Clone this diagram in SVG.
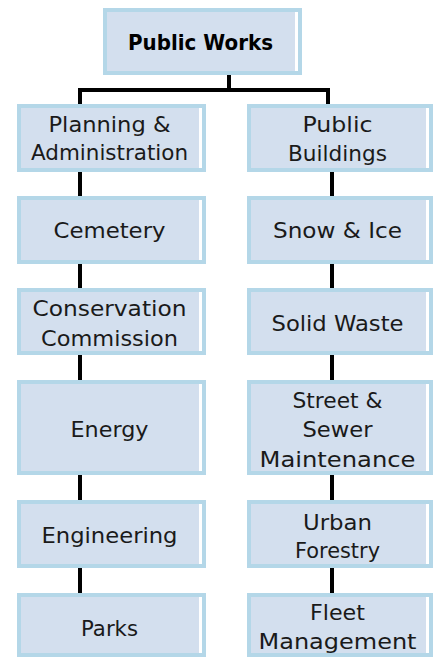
<svg xmlns="http://www.w3.org/2000/svg" width="433" height="658" viewBox="0 0 433 658">
  <style>
    .box { fill: #D3DFEE; stroke: #B4D7E8; stroke-width: 4; }
    .strip { fill: #FFFFFF; }
    .conn { fill: none; stroke: #000000; stroke-width: 4; stroke-linejoin: miter; stroke-linecap: butt; }
    .t { font-family: "DejaVu Sans", "Liberation Sans", sans-serif; font-size: 21px; fill: #1A1A1A; text-anchor: middle; }
    .tb { font-weight: bold; fill: #000000; font-size: 22px; }
  </style>
  <rect x="0" y="0" width="433" height="658" fill="#FFFFFF"/>
  <g id="connectors">
    <path class="conn" d="M229,75 V90"/>
    <path class="conn" d="M80,104 V90 H328 V104"/>
    <path class="conn" d="M80,172 V196 M80,264 V288 M80,355 V380 M80,475 V500 M80,568 V593"/>
    <path class="conn" d="M332,172 V196 M332,264 V288 M332,355 V380 M332,475 V500 M332,568 V593"/>
  </g>
  <g id="public-works">
    <rect class="box" x="105" y="10" width="195" height="63"/>
    <rect class="strip" x="295" y="12" width="3" height="59"/>
    <text class="t tb" x="200.5" y="50" textLength="145" lengthAdjust="spacingAndGlyphs">Public Works</text>
  </g>
  <g id="planning-administration">
    <rect class="box" x="19" y="106" width="185" height="64"/>
    <rect class="strip" x="199" y="108" width="3" height="60"/>
    <text class="t" x="109.5" y="132" textLength="122" lengthAdjust="spacingAndGlyphs">Planning &amp;</text>
    <text class="t" x="109.5" y="160" textLength="157" lengthAdjust="spacingAndGlyphs">Administration</text>
  </g>
  <g id="cemetery">
    <rect class="box" x="19" y="198" width="185" height="64"/>
    <rect class="strip" x="199" y="200" width="3" height="60"/>
    <text class="t" x="109.5" y="238" textLength="112" lengthAdjust="spacingAndGlyphs">Cemetery</text>
  </g>
  <g id="conservation-commission">
    <rect class="box" x="19" y="290" width="185" height="63"/>
    <rect class="strip" x="199" y="292" width="3" height="59"/>
    <text class="t" x="109.5" y="315.5" textLength="154" lengthAdjust="spacingAndGlyphs">Conservation</text>
    <text class="t" x="109.5" y="345.5" textLength="137" lengthAdjust="spacingAndGlyphs">Commission</text>
  </g>
  <g id="energy">
    <rect class="box" x="19" y="382" width="185" height="91"/>
    <rect class="strip" x="199" y="384" width="3" height="87"/>
    <text class="t" x="109.5" y="436.5" textLength="78" lengthAdjust="spacingAndGlyphs">Energy</text>
  </g>
  <g id="engineering">
    <rect class="box" x="19" y="502" width="185" height="64"/>
    <rect class="strip" x="199" y="504" width="3" height="60"/>
    <text class="t" x="109.5" y="542.5" textLength="136" lengthAdjust="spacingAndGlyphs">Engineering</text>
  </g>
  <g id="parks">
    <rect class="box" x="19" y="595" width="185" height="60"/>
    <rect class="strip" x="199" y="597" width="3" height="56"/>
    <text class="t" x="109.5" y="635.5" textLength="57" lengthAdjust="spacingAndGlyphs">Parks</text>
  </g>
  <g id="public-buildings">
    <rect class="box" x="249" y="106" width="182" height="64"/>
    <rect class="strip" x="426" y="108" width="3" height="60"/>
    <text class="t" x="337.5" y="132" textLength="70" lengthAdjust="spacingAndGlyphs">Public</text>
    <text class="t" x="337.5" y="161" textLength="99" lengthAdjust="spacingAndGlyphs">Buildings</text>
  </g>
  <g id="snow-ice">
    <rect class="box" x="249" y="198" width="182" height="64"/>
    <rect class="strip" x="426" y="200" width="3" height="60"/>
    <text class="t" x="337.5" y="238" textLength="129" lengthAdjust="spacingAndGlyphs">Snow &amp; Ice</text>
  </g>
  <g id="solid-waste">
    <rect class="box" x="249" y="290" width="182" height="63"/>
    <rect class="strip" x="426" y="292" width="3" height="59"/>
    <text class="t" x="337.5" y="330.5" textLength="132" lengthAdjust="spacingAndGlyphs">Solid Waste</text>
  </g>
  <g id="street-sewer-maintenance">
    <rect class="box" x="249" y="382" width="182" height="91"/>
    <rect class="strip" x="426" y="384" width="3" height="87"/>
    <text class="t" x="337.5" y="407.5" textLength="90" lengthAdjust="spacingAndGlyphs">Street &amp;</text>
    <text class="t" x="337.5" y="437" textLength="70" lengthAdjust="spacingAndGlyphs">Sewer</text>
    <text class="t" x="337.5" y="466.5" textLength="156" lengthAdjust="spacingAndGlyphs">Maintenance</text>
  </g>
  <g id="urban-forestry">
    <rect class="box" x="249" y="502" width="182" height="64"/>
    <rect class="strip" x="426" y="504" width="3" height="60"/>
    <text class="t" x="337.5" y="529.5" textLength="69" lengthAdjust="spacingAndGlyphs">Urban</text>
    <text class="t" x="337.5" y="557.5" textLength="85" lengthAdjust="spacingAndGlyphs">Forestry</text>
  </g>
  <g id="fleet-management">
    <rect class="box" x="249" y="595" width="182" height="60"/>
    <rect class="strip" x="426" y="597" width="3" height="56"/>
    <text class="t" x="337.5" y="620" textLength="55" lengthAdjust="spacingAndGlyphs">Fleet</text>
    <text class="t" x="337.5" y="649" textLength="158" lengthAdjust="spacingAndGlyphs">Management</text>
  </g>
</svg>
